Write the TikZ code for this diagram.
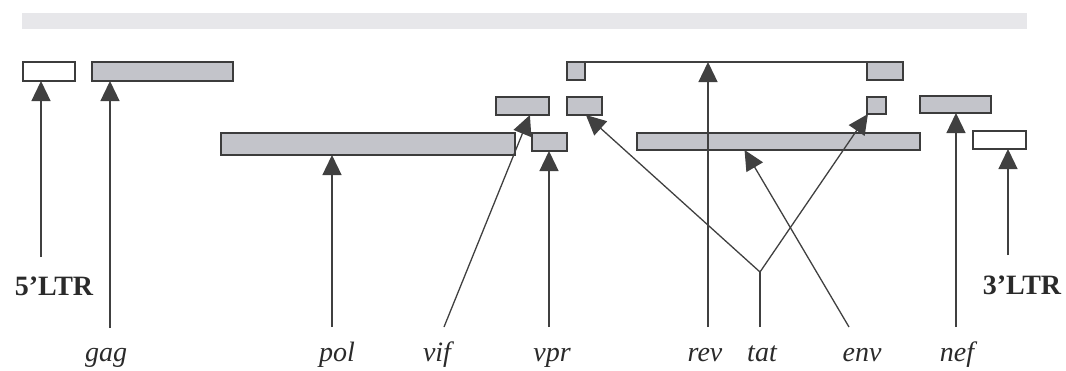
\documentclass[tikz,border=0pt]{standalone}
\usepackage{fontspec}
\setmainfont{Liberation Serif}
\usetikzlibrary{arrows.meta,calc}
\definecolor{boxedge}{HTML}{3C3C3C}
\definecolor{genefill}{HTML}{C3C4CA}
\definecolor{leadgray}{HTML}{404040}
\definecolor{labelgray}{HTML}{2A2A2A}
\definecolor{bandgray}{HTML}{E7E7EA}
\tikzset{
  gene/.style={draw=boxedge, line width=1.8pt, fill=genefill, inner sep=0pt, outer sep=0pt, anchor=north west},
  ltr/.style={gene, fill=white},
  lead/.style={draw=leadgray, line width=1.3pt},
  pointer/.style={lead, -{Triangle[width=19pt,length=20pt]}},
  genename/.style={font=\fontsize{28}{32}\selectfont\itshape, text=labelgray, anchor=base, inner sep=0pt},
  ltrname/.style={font=\fontsize{28}{32}\selectfont\bfseries, text=labelgray, anchor=base, inner sep=0pt},
}
% \genebox{style}{name}{left}{top}{width}{height}
\newcommand\genebox[6]{\node[#1, minimum width=#5pt, minimum height=#6pt] (#2) at (#3,#4) {};}
\begin{document}
\begin{tikzpicture}[x=1pt,y=-1pt]
\useasboundingbox (0,0) rectangle (1066,370);
% header band
\fill[bandgray] (22,13) rectangle (1027,29);

% genome segments
\genebox{ltr}{ltrA}{23}{62}{52}{19}
\genebox{gene}{gag}{92}{62}{141}{19}
\genebox{gene}{pol}{221}{133}{294}{22}
\genebox{gene}{vif}{496}{97}{53}{18}
\genebox{gene}{vpr}{532}{133}{35}{18}
\genebox{gene}{revA}{567}{62}{18}{18}
\genebox{gene}{revB}{867}{62}{36}{18}
\genebox{gene}{tatA}{567}{97}{35}{18}
\genebox{gene}{tatB}{867}{97}{19}{17}
\genebox{gene}{env}{637}{133}{283}{17}
\genebox{gene}{nef}{920}{96}{71}{17}
\genebox{ltr}{ltrB}{973}{131}{53}{18}

% splice link between the two rev exons
\draw[lead] (revA.north west) -- (revB.north east);

% labels
\node[ltrname]  (lab5) at (54,295) {5’LTR};
\node[ltrname]  (lab3) at (1022,294) {3’LTR};
\node[genename] (labgag) at (106,361) {gag};
\node[genename] (labpol) at (337,361) {pol};
\node[genename] (labvif) at (437,361) {vif};
\node[genename] (labvpr) at (552,361) {vpr};
\node[genename] (labrev) at (705,361) {rev};
\node[genename] (labtat) at (762,361) {tat};
\node[genename] (labenv) at (862,361) {env};
\node[genename] (labnef) at (957,361) {nef};

% lower ends of the pointers
\coordinate (e5)   at (41,257);
\coordinate (egag) at (110,328);
\coordinate (epol) at (332,327);
\coordinate (evif) at (444,327);
\coordinate (evpr) at (549,327);
\coordinate (erev) at (708,327);
\coordinate (etat) at (760,327);
\coordinate (tatFork) at (760,272);
\coordinate (eenv) at (849,327);
\coordinate (enef) at (956,327);
\coordinate (e3)   at (1008,255);

% pointers
\draw[pointer] (e5)   -- (e5 |- ltrA.south);
\draw[pointer] (egag) -- (egag |- gag.south);
\draw[pointer] (epol) -- (epol |- pol.south);
\draw[pointer] (evif) -- ($(vif.south west)!0.64!(vif.south east)$);
\draw[pointer] (evpr) -- (evpr |- vpr.south);
\draw[pointer] (erev) -- (erev |- revA.north);
\draw[lead]    (etat) -- (tatFork);
\draw[pointer] (tatFork) -- ($(tatA.south west)!0.54!(tatA.south east)$);
\draw[pointer] (tatFork) -- ($(tatB.south west)!0.05!(tatB.south east)$);
\draw[pointer] (eenv) -- ($(env.south west)!0.38!(env.south east)$);
\draw[pointer] (enef) -- (enef |- nef.south);
\draw[pointer] (e3)   -- (e3 |- ltrB.south);
\end{tikzpicture}
\end{document}
